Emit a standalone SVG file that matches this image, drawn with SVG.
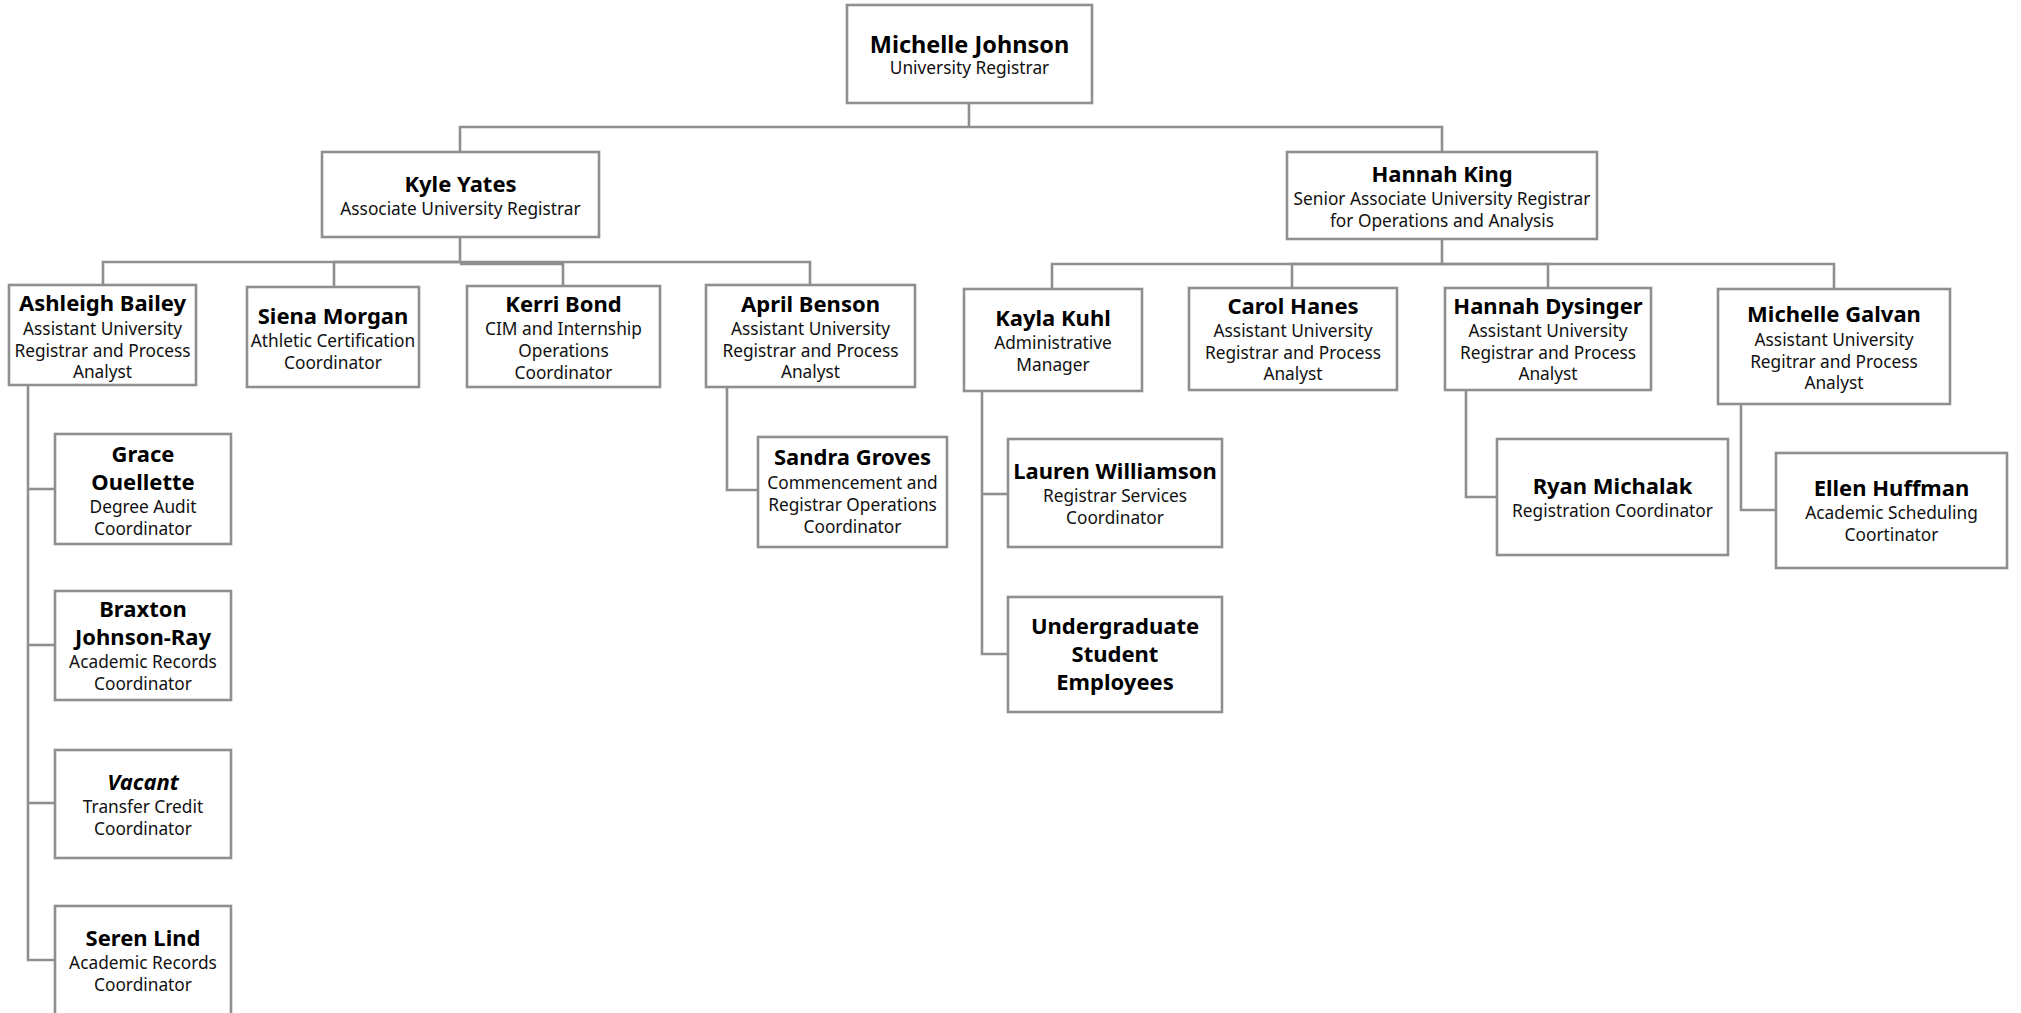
<svg xmlns="http://www.w3.org/2000/svg" width="2021" height="1013" viewBox="0 0 2021 1013">
<style>
.box{fill:#fff;stroke:#8f8f8f;stroke-width:2.6}
.conn{fill:none;stroke:#8f8f8f;stroke-width:2.6}
text{font-family:"Noto Sans","Open Sans","DejaVu Sans",sans-serif;text-anchor:middle;fill:#000}
.n{font-size:22px;font-weight:bold}
.t{font-size:17.3px;fill:#111}
</style>
<rect width="2021" height="1013" fill="#fff"/>
<g id="connectors">
<path class="conn" d="M969,103 V127 H460 V152"/>
<path class="conn" d="M969,127 H1442 V152"/>
<path class="conn" d="M460,237 V262 H103 V285"/>
<path class="conn" d="M460,262 H334 V287"/>
<path class="conn" d="M460,264 H563 V286"/>
<path class="conn" d="M460,262 H810 V285"/>
<path class="conn" d="M1442,239 V264 H1052 V289"/>
<path class="conn" d="M1442,264 H1292 V288"/>
<path class="conn" d="M1442,264 H1548 V288"/>
<path class="conn" d="M1442,264 H1834 V289"/>
<path class="conn" d="M28,385 V960 H55"/>
<path class="conn" d="M28,489 H55"/>
<path class="conn" d="M28,645 H55"/>
<path class="conn" d="M28,803 H55"/>
<path class="conn" d="M727,387 V490 H758"/>
<path class="conn" d="M982,391 V654 H1008"/>
<path class="conn" d="M982,494 H1008"/>
<path class="conn" d="M1466,390 V497 H1497"/>
<path class="conn" d="M1741,404 V510 H1776"/>
</g>
<g id="michelle-johnson"><rect class="box" x="847" y="5" width="245" height="98"/>
<text x="969.5" y="53" class="n" style="font-size:23.5px">Michelle Johnson</text>
<text x="969.5" y="74" class="t">University Registrar</text></g>
<g id="kyle-yates"><rect class="box" x="322" y="152" width="277" height="85"/>
<text x="460.5" y="192" class="n">Kyle Yates</text>
<text x="460.5" y="215" class="t">Associate University Registrar</text></g>
<g id="hannah-king"><rect class="box" x="1287" y="152" width="310" height="87"/>
<text x="1442" y="182" class="n">Hannah King</text>
<text x="1442" y="205" class="t">Senior Associate University Registrar</text>
<text x="1442" y="227" class="t">for Operations and Analysis</text></g>
<g id="ashleigh-bailey"><rect class="box" x="9" y="285" width="187" height="100"/>
<text x="102.5" y="311" class="n">Ashleigh Bailey</text>
<text x="102.5" y="335" class="t">Assistant University</text>
<text x="102.5" y="357" class="t">Registrar and Process</text>
<text x="102.5" y="378" class="t">Analyst</text></g>
<g id="siena-morgan"><rect class="box" x="247" y="287" width="172" height="100"/>
<text x="333" y="324" class="n">Siena Morgan</text>
<text x="333" y="347" class="t">Athletic Certification</text>
<text x="333" y="369" class="t">Coordinator</text></g>
<g id="kerri-bond"><rect class="box" x="467" y="286" width="193" height="101"/>
<text x="563.5" y="312" class="n">Kerri Bond</text>
<text x="563.5" y="335" class="t">CIM and Internship</text>
<text x="563.5" y="357" class="t">Operations</text>
<text x="563.5" y="379" class="t">Coordinator</text></g>
<g id="april-benson"><rect class="box" x="706" y="285" width="209" height="102"/>
<text x="810.5" y="312" class="n">April Benson</text>
<text x="810.5" y="335" class="t">Assistant University</text>
<text x="810.5" y="357" class="t">Registrar and Process</text>
<text x="810.5" y="378" class="t">Analyst</text></g>
<g id="sandra-groves"><rect class="box" x="758" y="437" width="189" height="110"/>
<text x="852.5" y="465" class="n">Sandra Groves</text>
<text x="852.5" y="489" class="t">Commencement and</text>
<text x="852.5" y="511" class="t">Registrar Operations</text>
<text x="852.5" y="533" class="t">Coordinator</text></g>
<g id="grace-ouellette"><rect class="box" x="55" y="434" width="176" height="110"/>
<text x="143" y="462" class="n">Grace</text>
<text x="143" y="490" class="n">Ouellette</text>
<text x="143" y="513" class="t">Degree Audit</text>
<text x="143" y="535" class="t">Coordinator</text></g>
<g id="braxton-johnson-ray"><rect class="box" x="55" y="591" width="176" height="109"/>
<text x="143" y="617" class="n">Braxton</text>
<text x="143" y="645" class="n">Johnson-Ray</text>
<text x="143" y="668" class="t">Academic Records</text>
<text x="143" y="690" class="t">Coordinator</text></g>
<g id="vacant"><rect class="box" x="55" y="750" width="176" height="108"/>
<text x="143" y="790" class="n" font-style="italic">Vacant</text>
<text x="143" y="813" class="t">Transfer Credit</text>
<text x="143" y="835" class="t">Coordinator</text></g>
<g id="seren-lind"><rect class="box" x="55" y="906" width="176" height="114"/>
<text x="143" y="946" class="n">Seren Lind</text>
<text x="143" y="969" class="t">Academic Records</text>
<text x="143" y="991" class="t">Coordinator</text></g>
<g id="kayla-kuhl"><rect class="box" x="964" y="289" width="178" height="102"/>
<text x="1053" y="326" class="n">Kayla Kuhl</text>
<text x="1053" y="349" class="t">Administrative</text>
<text x="1053" y="371" class="t">Manager</text></g>
<g id="lauren-williamson"><rect class="box" x="1008" y="439" width="214" height="108"/>
<text x="1115" y="479" class="n">Lauren Williamson</text>
<text x="1115" y="502" class="t">Registrar Services</text>
<text x="1115" y="524" class="t">Coordinator</text></g>
<g id="undergraduate-student-employees"><rect class="box" x="1008" y="597" width="214" height="115"/>
<text x="1115" y="634" class="n">Undergraduate</text>
<text x="1115" y="662" class="n">Student</text>
<text x="1115" y="690" class="n">Employees</text></g>
<g id="carol-hanes"><rect class="box" x="1189" y="288" width="208" height="102"/>
<text x="1293" y="314" class="n">Carol Hanes</text>
<text x="1293" y="337" class="t">Assistant University</text>
<text x="1293" y="359" class="t">Registrar and Process</text>
<text x="1293" y="380" class="t">Analyst</text></g>
<g id="hannah-dysinger"><rect class="box" x="1445" y="288" width="206" height="102"/>
<text x="1548" y="314" class="n">Hannah Dysinger</text>
<text x="1548" y="337" class="t">Assistant University</text>
<text x="1548" y="359" class="t">Registrar and Process</text>
<text x="1548" y="380" class="t">Analyst</text></g>
<g id="michelle-galvan"><rect class="box" x="1718" y="289" width="232" height="115"/>
<text x="1834" y="322" class="n">Michelle Galvan</text>
<text x="1834" y="346" class="t">Assistant University</text>
<text x="1834" y="368" class="t">Regitrar and Process</text>
<text x="1834" y="389" class="t">Analyst</text></g>
<g id="ryan-michalak"><rect class="box" x="1497" y="439" width="231" height="116"/>
<text x="1612.5" y="494" class="n">Ryan Michalak</text>
<text x="1612.5" y="517" class="t">Registration Coordinator</text></g>
<g id="ellen-huffman"><rect class="box" x="1776" y="453" width="231" height="115"/>
<text x="1891.5" y="496" class="n">Ellen Huffman</text>
<text x="1891.5" y="519" class="t">Academic Scheduling</text>
<text x="1891.5" y="541" class="t">Coortinator</text></g>
</svg>
